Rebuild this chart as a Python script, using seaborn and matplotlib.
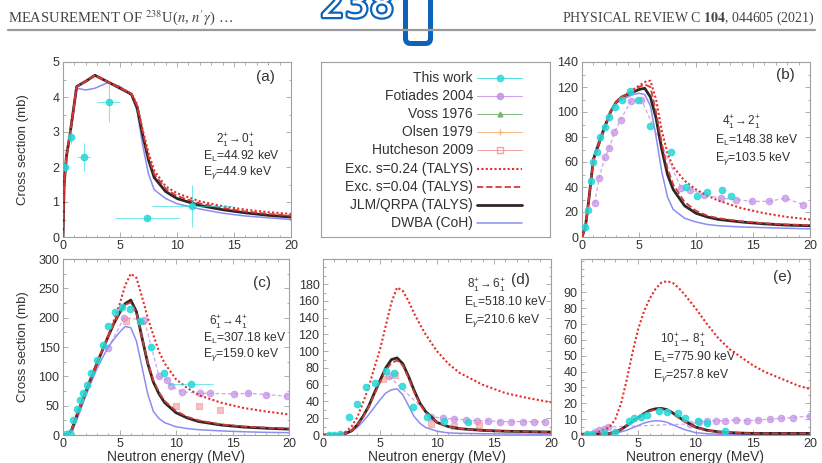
import matplotlib
matplotlib.use("Agg")
import matplotlib.pyplot as plt
import matplotlib.patheffects as pe
from matplotlib.patches import FancyBboxPatch
from matplotlib.lines import Line2D
from matplotlib.ticker import AutoMinorLocator
import seaborn as sns

# ---------------- panel (a): 2+ -> 0+ ----------------
E_a = [0, 0.1, 0.3, 0.6, 1.2, 2.0, 2.8, 4.0, 5.0, 6.0, 6.5, 7.0, 7.5, 8.0, 9.0, 10, 12, 14, 16, 18, 20]
jlm_a = [0, 1.5, 2.3, 2.9, 4.3, 4.45, 4.62, 4.42, 4.25, 4.08, 3.7, 2.9, 2.2, 1.7, 1.3, 1.1, 0.9, 0.78, 0.69, 0.62, 0.57]
exc24_a = [0, 1.5, 2.3, 2.9, 4.3, 4.45, 4.62, 4.42, 4.27, 4.1, 3.8, 3.05, 2.4, 1.9, 1.45, 1.25, 1.02, 0.88, 0.78, 0.71, 0.66]
exc04_a = [0, 1.5, 2.3, 2.9, 4.3, 4.45, 4.62, 4.42, 4.26, 4.09, 3.75, 3.0, 2.3, 1.8, 1.38, 1.17, 0.96, 0.83, 0.73, 0.66, 0.61]
dwba_a = [0, 1.5, 2.3, 2.9, 4.25, 4.2, 4.25, 4.42, 4.3, 4.05, 3.6, 2.6, 1.8, 1.35, 1.1, 0.95, 0.8, 0.68, 0.6, 0.55, 0.5]
this_a_x = [0.2, 0.7, 1.8, 4.0, 7.4, 11.3]
this_a_y = [2.0, 2.85, 2.28, 3.85, 0.55, 0.9]
this_a_xerr = [0.15, 0.25, 0.6, 1.0, 2.8, 3.5]
this_a_yerr = [0.2, 0.2, 0.4, 0.55, 0.05, 0.6]

# ---------------- panel (b): 4+ -> 2+ ----------------
E_b = [0, 0.3, 0.6, 1.0, 1.5, 2.0, 2.5, 3.0, 3.5, 4.0, 4.5, 5.0, 5.5, 6.0, 6.5, 7.0, 7.5, 8.0, 9.0, 10, 11, 12, 14, 16, 18, 20]
jlm_b = [0, 8, 30, 62, 75, 88, 100, 108, 112, 114, 116, 118, 119, 112, 95, 70, 50, 38, 25, 19, 16, 14, 12, 10.5, 9.5, 9]
exc24_b = [0, 8, 30, 62, 75, 88, 100, 108, 112, 115, 118, 121, 124, 125, 110, 85, 67, 56, 45, 38, 33, 29, 23, 19, 16, 14]
exc04_b = [0, 8, 30, 62, 75, 88, 100, 108, 112, 114, 117, 120, 122, 120, 100, 75, 55, 42, 28, 21, 17, 15, 12.5, 11, 10, 9.5]
dwba_b = [0, 8, 32, 64, 78, 90, 100, 107, 110, 112, 114, 115, 114, 105, 80, 52, 32, 22, 15, 12, 10, 9, 8, 7.5, 7, 6.5]
this_b_x = [0.3, 0.5, 0.8, 1.0, 1.3, 1.6, 2.0, 2.4, 2.9, 3.5, 4.2, 4.9, 6.0, 7.8, 9.1, 10.1, 11.0, 12.3, 13.1]
this_b_y = [8, 22, 45, 60, 68, 80, 88, 96, 104, 110, 117, 110, 89, 68, 40, 33, 36, 38, 33]
fot_b_x = [1.1, 1.5, 2.0, 2.4, 2.85, 3.4, 4.3, 5.2, 8.7, 9.5, 10.7, 12.2, 13.5, 14.9, 16.4, 17.8, 19.4]
fot_b_y = [27, 47, 64, 71, 84, 94, 109, 110, 39, 38, 34, 31, 30, 28.5, 28.5, 31, 26]

# ---------------- panel (c): 6+ -> 4+ ----------------
E_c = [0, 0.5, 0.8, 1.0, 1.5, 2.0, 2.5, 3.0, 3.5, 4.0, 4.5, 5.0, 5.5, 6.0, 6.5, 7.0, 7.5, 8.0, 8.5, 9.0, 10, 11, 12, 14, 16, 18, 20]
jlm_c = [0, 2, 10, 22, 48, 73, 98, 122, 145, 168, 190, 208, 224, 230, 210, 165, 122, 90, 70, 55, 38, 29, 23, 17, 13.5, 11.5, 10]
exc24_c = [0, 2, 10, 22, 48, 73, 98, 122, 145, 170, 195, 222, 255, 275, 268, 235, 200, 170, 142, 122, 95, 80, 68, 55, 46, 40, 35]
exc04_c = [0, 2, 10, 22, 48, 73, 98, 122, 145, 168, 190, 207, 222, 226, 208, 165, 124, 93, 73, 58, 41, 31, 25, 18, 14.5, 12.5, 11]
dwba_c = [0, 1, 6, 15, 40, 66, 90, 113, 132, 150, 163, 175, 185, 183, 160, 115, 70, 40, 28, 21, 14, 11, 9, 7, 5.5, 4.5, 4]
this_c_x = [0.3, 0.6, 0.9, 1.2, 1.5, 1.8, 2.1, 2.5, 3.0, 3.5, 4.0, 4.6, 5.2, 5.9, 6.8, 7.8, 8.9, 11.3]
this_c_y = [2, 4, 25, 45, 60, 72, 85, 105, 128, 153, 185, 210, 218, 215, 195, 150, 105, 87]
this_c_xerr = [0, 0, 0, 0, 0, 0, 0, 0, 0, 0, 0, 0, 0, 0, 0, 0, 0, 2.0]
fot_c_x = [4.0, 5.4, 7.2, 8.5, 9.2, 9.6, 10.5, 12.1, 13.0, 15.1, 16.4, 18.0, 19.8]
fot_c_y = [148, 200, 196, 100, 94, 83, 74, 71, 71, 70, 71, 69, 66]
hut_c_x = [5.6, 10.0, 12.0, 13.9]
hut_c_y = [195, 49, 49, 43]
voss_c_x = [6.9]
voss_c_y = [195]

# ---------------- panel (d): 8+ -> 6+ ----------------
E_d = [0, 1, 1.5, 2, 2.5, 3, 3.5, 4, 4.5, 5, 5.5, 6, 6.5, 7, 7.5, 8, 8.5, 9, 10, 11, 12, 14, 16, 18, 20]
exc24_d = [0, 0.5, 1.5, 4, 10, 21, 38, 57, 80, 102, 130, 158, 176, 172, 160, 145, 132, 120, 100, 85, 74, 60, 50, 44, 39]
jlm_d = [0, 0.3, 0.8, 2, 5, 12, 22, 34, 50, 65, 80, 90, 92, 85, 70, 53, 38, 28, 15, 10, 7.5, 5.5, 4.5, 4, 3.5]
exc04_d = [0, 0.3, 0.8, 2, 5, 12, 21, 33, 48, 63, 77, 86, 89, 83, 68, 51, 37, 27, 15, 10, 7.5, 5.5, 4.5, 4, 3.5]
dwba_d = [0, 0.2, 0.5, 1.5, 4, 9, 16, 24, 33, 42, 50, 54, 55, 48, 35, 22, 14, 9, 4.5, 2.5, 2, 1.5, 1.2, 1, 1]
this_d_x = [0.5, 1.0, 1.5, 2.3, 3.0, 3.8, 4.6, 5.5, 6.2, 6.9, 7.9, 9.1, 10.6, 12.7]
this_d_y = [0.5, 0.5, 1, 21, 37, 57, 62, 76, 74, 58, 33, 21, 17, 15]
fot_d_x = [5.8, 9.5, 10.5, 11.5, 12.5, 13.5, 14.5, 15.5, 16.5, 17.5, 18.5, 19.5]
fot_d_y = [70, 22, 20, 19, 18, 17, 17, 16, 16, 16, 16, 16]
hut_d_x = [5.3, 6.3, 9.5, 11.5, 13.7]
hut_d_y = [67, 72, 13, 11, 12]

# ---------------- panel (e): 10+ -> 8+ ----------------
E_e = [0, 1, 2, 2.5, 3, 3.5, 4, 4.5, 5, 5.5, 6, 6.5, 7, 7.5, 8, 8.5, 9, 10, 11, 12, 13, 14, 15, 16, 17, 18, 19, 20]
exc24_e = [0, 1, 3, 5, 10, 20, 35, 52, 67, 78, 86, 92, 96, 97, 96, 93, 89, 80, 70, 61, 54, 49, 44, 40, 37, 34, 31, 29]
jlm_e = [0.5, 0.5, 0.6, 1, 2, 3.5, 6, 8.5, 11, 13.5, 15.5, 16.5, 16.8, 16, 14, 11.5, 9, 5, 3, 2, 1.5, 1.2, 1, 1, 1, 1, 1, 1]
exc04_e = [0.5, 0.5, 0.6, 1, 2, 3.5, 6, 8.5, 11, 13.5, 15, 16, 16.3, 15.5, 13.5, 11, 8.5, 4.8, 2.8, 2, 1.5, 1.2, 1, 1, 1, 1, 1, 1]
dwba_e = [0.2, 0.2, 0.3, 0.5, 1, 2, 3, 4.5, 6, 7.5, 8.5, 9, 8.8, 8, 6.5, 5, 3.5, 1.5, 0.8, 0.5, 0.4, 0.3, 0.3, 0.3, 0.3, 0.3, 0.3, 0.3]
this_e_x = [0.5, 1, 2, 3, 4.2, 4.6, 5.2, 5.8, 6.8, 7.5, 8.5, 9.1, 10.2, 11.0, 12.6]
this_e_y = [0.5, 0.5, 1, 2, 8.6, 10.7, 11.5, 12.5, 15, 14.5, 14, 10.7, 9, 7.5, 2.6]
fot_e_x = [1.2, 1.6, 2.0, 2.4, 9.5, 10.3, 11.0, 11.8, 12.6, 13.5, 14.5, 15.5, 16.5, 17.5, 18.5, 20.0]
fot_e_y = [2, 3, 4, 5, 7, 8, 9, 9, 9, 9.5, 9, 9.5, 10, 10.5, 11, 12]

# transition labels
transitions = [r"$2_1^{+}\!\rightarrow 0_1^{+}$", r"$4_1^{+}\!\rightarrow 2_1^{+}$",
               r"$6_1^{+}\!\rightarrow 4_1^{+}$", r"$8_1^{+}\!\rightarrow 6_1^{+}$",
               r"$10_1^{+}\!\rightarrow 8_1^{+}$"]
level_energies = ["44.92", "148.38", "307.18", "518.10", "775.90"]
gamma_energies = ["44.9", "103.5", "159.0", "210.6", "257.8"]
panel_tags = ["(a)", "(b)", "(c)", "(d)", "(e)"]
legend_labels = ["This work", "Fotiades 2004", "Voss 1976", "Olsen 1979", "Hutcheson 2009",
                 "Exc. s=0.24 (TALYS)", "Exc. s=0.04 (TALYS)", "JLM/QRPA (TALYS)", "DWBA (CoH)"]

# ---------------- styling ----------------
C_THIS = "#25d8d8"
C_FOT = "#c38ee4"
C_VOSS = "#6fb36f"
C_OLSEN = "#f4b27c"
C_HUT = "#f09898"
C_EXC24 = "#e62e2b"
C_EXC04 = "#d43a3a"
C_JLM = "#302626"
C_DWBA = "#8b8df2"
SPINE = "#a0a0a0"
TXT = "#333333"

sns.set_theme(style="ticks")
plt.rcParams["font.family"] = ["Liberation Sans", "DejaVu Sans"]
plt.rcParams["mathtext.fontset"] = "custom"
plt.rcParams["mathtext.rm"] = "Liberation Sans"
plt.rcParams["mathtext.it"] = "Liberation Sans:italic"
plt.rcParams["mathtext.bf"] = "Liberation Sans:bold"

W, H = 822, 463
fig = plt.figure(figsize=(W / 100, H / 100), dpi=100)
fig.patch.set_facecolor("white")


def px_axes(x0, x1, y0, y1):
    return fig.add_axes([x0 / W, 1 - y1 / H, (x1 - x0) / W, (y1 - y0) / H])


def style_axes(ax, ymax, yticks):
    ax.set_xlim(0, 20)
    ax.set_ylim(0, ymax)
    ax.set_xticks([0, 5, 10, 15, 20])
    ax.set_yticks(yticks)
    ax.xaxis.set_minor_locator(AutoMinorLocator(5))
    ax.yaxis.set_minor_locator(AutoMinorLocator(2))
    ax.tick_params(which="both", direction="in", top=True, right=True, color=SPINE,
                   labelsize=9, labelcolor=TXT, width=0.6)
    ax.tick_params(which="major", length=3.5, pad=2.5)
    ax.tick_params(which="minor", length=1.8)
    for s in ax.spines.values():
        s.set_color(SPINE)
        s.set_linewidth(0.8)
    ax.set_facecolor("white")


def line(ax, x, y, color, lw, ls, z):
    sns.lineplot(x=x, y=y, ax=ax, color=color, lw=lw, linestyle=ls, errorbar=None,
                 sort=False, zorder=z)


def models(ax, E, exc24, exc04, jlm, dwba):
    line(ax, E, dwba, C_DWBA, 1.1, "-", 4)
    line(ax, E, jlm, C_JLM, 2.0, "-", 5)
    line(ax, E, exc04, C_EXC04, 1.3, (0, (3.5, 1.6)), 6)
    line(ax, E, exc24, C_EXC24, 1.5, (0, (1, 1.1)), 7)


def measured(ax, x, y, color, marker, s, z, connect=False, alpha=0.85):
    if connect:
        sns.lineplot(x=x, y=y, ax=ax, color=color, lw=0.9, linestyle=(0, (3, 2)),
                     errorbar=None, sort=False, zorder=z - 0.5, alpha=0.8)
    sns.scatterplot(x=x, y=y, ax=ax, color=color, marker=marker, s=s, edgecolor=color,
                    linewidth=0.8, alpha=alpha, zorder=z)


def annotate(ax, i, tpos, lpos, gpos):
    ax.text(tpos[0], tpos[1], transitions[i], transform=ax.transAxes, ha="center",
            va="center", fontsize=8.5, color=TXT)
    ax.text(lpos[0], lpos[1], r"E$_\mathrm{L}$=" + level_energies[i] + " keV",
            transform=ax.transAxes, ha="left", va="center", fontsize=8.7, color=TXT)
    ax.text(gpos[0], gpos[1], r"E$_\gamma$=" + gamma_energies[i] + " keV",
            transform=ax.transAxes, ha="left", va="center", fontsize=8.7, color=TXT)


def tag(ax, i, pos):
    ax.text(pos[0], pos[1], panel_tags[i], transform=ax.transAxes, ha="center",
            va="center", fontsize=11, color=TXT)


# ---------------- panel (a) ----------------
ax_a = px_axes(63, 291, 62, 237)
style_axes(ax_a, 5, [0, 1, 2, 3, 4, 5])
models(ax_a, E_a, exc24_a, exc04_a, jlm_a, dwba_a)
ax_a.errorbar(this_a_x, this_a_y, xerr=this_a_xerr, yerr=this_a_yerr, fmt="none",
              ecolor=C_THIS, elinewidth=0.8, alpha=0.6, zorder=7)
measured(ax_a, this_a_x, this_a_y, C_THIS, "o", 22, 8)
ax_a.set_ylabel("Cross section (mb)", fontsize=9.5, color=TXT)
ax_a.yaxis.set_label_coords(-0.15, 0.5)
annotate(ax_a, 0, (0.755, 0.555), (0.614, 0.46), (0.614, 0.37))
tag(ax_a, 0, (0.886, 0.914))

# ---------------- legend box ----------------
ax_l = px_axes(321, 550, 62, 237)
ax_l.set_xlim(0, 1)
ax_l.set_ylim(0, 1)
ax_l.set_xticks([])
ax_l.set_yticks([])
for s in ax_l.spines.values():
    s.set_color(SPINE)
    s.set_linewidth(0.8)
legend_styles = [
    dict(color=C_THIS, lw=0.7, ls="-", marker="o", ms=4.5, alpha=0.8),
    dict(color=C_FOT, lw=0.8, ls="-", marker="o", ms=4.5, alpha=0.8),
    dict(color=C_VOSS, lw=0.7, ls="-", marker="^", ms=3.5, alpha=0.9),
    dict(color=C_OLSEN, lw=0.7, ls="-", marker="+", ms=4, alpha=0.9),
    dict(color=C_HUT, lw=0.7, ls="-", marker="s", ms=4, alpha=0.9, mfc="none"),
    dict(color=C_EXC24, lw=1.5, ls=(0, (1, 1.1)), marker=None, ms=0, alpha=1),
    dict(color=C_EXC04, lw=1.3, ls=(0, (3.5, 1.6)), marker=None, ms=0, alpha=1),
    dict(color=C_JLM, lw=2.0, ls="-", marker=None, ms=0, alpha=1),
    dict(color=C_DWBA, lw=1.1, ls="-", marker=None, ms=0, alpha=1),
]
for k, (lab, st) in enumerate(zip(legend_labels, legend_styles)):
    yk = (237 - (78 + k * 18.1)) / 175
    ax_l.text(0.664, yk, lab, ha="right", va="center", fontsize=10, color=TXT)
    ax_l.plot([0.681, 0.878], [yk, yk], color=st["color"], lw=st["lw"], ls=st["ls"],
              alpha=st["alpha"])
    if st["marker"]:
        ax_l.plot([0.78], [yk], color=st["color"], marker=st["marker"], ms=st["ms"],
                  mfc=st.get("mfc", st["color"]), alpha=st["alpha"], lw=0)

# ---------------- panel (b) ----------------
ax_b = px_axes(582, 810, 62, 237)
style_axes(ax_b, 140, [0, 20, 40, 60, 80, 100, 120, 140])
measured(ax_b, fot_b_x, fot_b_y, C_FOT, "o", 22, 3, connect=True, alpha=0.7)
models(ax_b, E_b, exc24_b, exc04_b, jlm_b, dwba_b)
measured(ax_b, this_b_x, this_b_y, C_THIS, "o", 22, 8)
annotate(ax_b, 1, (0.70, 0.657), (0.583, 0.55), (0.583, 0.45))
tag(ax_b, 1, (0.89, 0.926))

# ---------------- panel (c) ----------------
ax_c = px_axes(63, 289, 259, 435)
style_axes(ax_c, 300, [0, 50, 100, 150, 200, 250, 300])
measured(ax_c, fot_c_x, fot_c_y, C_FOT, "o", 22, 3, connect=True, alpha=0.7)
measured(ax_c, hut_c_x, hut_c_y, C_HUT, "s", 22, 3, alpha=0.6)
measured(ax_c, voss_c_x, voss_c_y, C_VOSS, "^", 18, 3, alpha=0.8)
models(ax_c, E_c, exc24_c, exc04_c, jlm_c, dwba_c)
ax_c.errorbar(this_c_x, this_c_y, xerr=this_c_xerr, fmt="none", ecolor=C_THIS,
              elinewidth=0.8, alpha=0.6, zorder=7)
measured(ax_c, this_c_x, this_c_y, C_THIS, "o", 22, 8)
ax_c.set_ylabel("Cross section (mb)", fontsize=9.5, color=TXT)
ax_c.yaxis.set_label_coords(-0.15, 0.5)
annotate(ax_c, 2, (0.73, 0.64), (0.62, 0.55), (0.62, 0.455))
tag(ax_c, 2, (0.88, 0.864))

# ---------------- panel (d) ----------------
ax_d = px_axes(323, 551, 259, 435)
style_axes(ax_d, 210, [0, 20, 40, 60, 80, 100, 120, 140, 160, 180])
measured(ax_d, fot_d_x, fot_d_y, C_FOT, "o", 22, 3, connect=True, alpha=0.7)
measured(ax_d, hut_d_x, hut_d_y, C_HUT, "s", 22, 3, alpha=0.6)
models(ax_d, E_d, exc24_d, exc04_d, jlm_d, dwba_d)
measured(ax_d, this_d_x, this_d_y, C_THIS, "o", 22, 8)
annotate(ax_d, 3, (0.715, 0.85), (0.62, 0.755), (0.62, 0.653))
tag(ax_d, 3, (0.865, 0.88))

# ---------------- panel (e) ----------------
ax_e = px_axes(581, 810, 259, 435)
style_axes(ax_e, 111, [0, 10, 20, 30, 40, 50, 60, 70, 80, 90])
measured(ax_e, fot_e_x, fot_e_y, C_FOT, "o", 22, 3, connect=True, alpha=0.7)
models(ax_e, E_e, exc24_e, exc04_e, jlm_e, dwba_e)
measured(ax_e, this_e_x, this_e_y, C_THIS, "o", 22, 8)
annotate(ax_e, 4, (0.445, 0.54), (0.315, 0.44), (0.315, 0.34))
tag(ax_e, 4, (0.878, 0.9))

for ax in (ax_c, ax_d, ax_e):
    ax.set_xlabel("Neutron energy (MeV)", fontsize=10, color=TXT, va="center")
    ax.xaxis.set_label_coords(0.5, -0.125)
for ax in (ax_b, ax_d, ax_e):
    ax.set_ylabel("")
for ax in (ax_a, ax_b):
    ax.set_xlabel("")

# ---------------- page header ----------------
inch = fig.dpi_scale_trans
fig.text(8 / 100, (H - 22) / 100, "MEASUREMENT OF $^{238}$U($n$, $n'\\gamma$) \u2026",
         transform=inch, fontsize=10.5, family=["Liberation Serif", "DejaVu Serif"],
         math_fontfamily="stix", color="#444444", ha="left", va="baseline")
fig.text(815 / 100, (H - 22) / 100, r"PHYSICAL REVIEW C $\mathbf{104}$, 044605 (2021)",
         transform=inch, fontsize=10, family=["Liberation Serif", "DejaVu Serif"],
         math_fontfamily="stix", color="#444444", ha="right", va="baseline")
fig.add_artist(Line2D([8 / 100, 815 / 100], [(H - 30) / 100] * 2, transform=inch,
                      color="#9a9a9a", lw=1.6))
BLUE = "#0d63b8"
fig.text(320 / 100, (H - 17) / 100, "238", transform=inch, fontsize=28, color="white",
         family="DejaVu Sans", ha="left", va="baseline",
         path_effects=[pe.Stroke(linewidth=3.2, foreground=BLUE), pe.Normal()])
fig.add_artist(FancyBboxPatch((405.5 / 100, (H - 43.5) / 100), 25 / 100, 1.0,
                              boxstyle="round,pad=0,rounding_size=0.05", transform=inch,
                              facecolor="none", edgecolor=BLUE, lw=3.6))

fig.savefig("out.png", dpi=100, facecolor="white")
